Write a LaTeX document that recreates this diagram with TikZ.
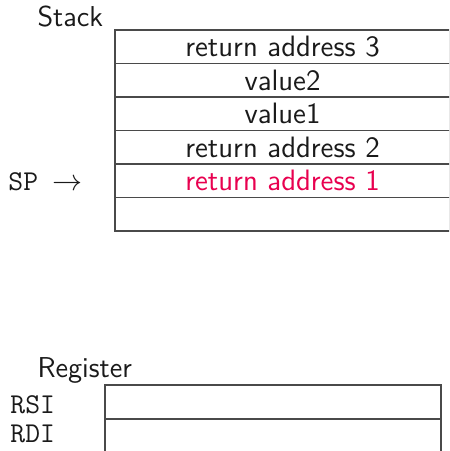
\documentclass[tikz,border=0pt]{standalone}
\usepackage{tikz}
\usetikzlibrary{positioning}
\definecolor{Alert}{HTML}{E8004F}
\definecolor{Frame}{HTML}{4A4A4A}
\definecolor{Ink}{HTML}{1A1A1A}

\begin{document}
\begin{tikzpicture}[x=0.4pt,y=-0.4pt,
  cell/.style={draw=Frame,line width=0.6pt,inner sep=0pt,outer sep=0pt,
    minimum width=134pt,minimum height=13.4pt,text=Ink,
    font=\sffamily\fontsize{11.8}{13}\selectfont},
  regcell/.style={cell,minimum width=134.4pt,minimum height=13.6pt},
  title/.style={anchor=base west,inner sep=0pt,text=Ink,font=\sffamily\fontsize{11.5}{13}\selectfont},
  tag/.style={anchor=base west,inner sep=0pt,text=Ink,font=\ttfamily\fontsize{11.5}{13}\selectfont}]
  \clip (0,0) rectangle (449,451);
  % stack, top to bottom
  \node[title] (stk) at (37,27) {Stack};
  \foreach \i/\txt in {1/return address 3, 2/value2, 3/value1,
    4/return address 2, 5/{\textcolor{Alert}{return address 1}}, 6/{}} {
    \node[cell] (r\i) at (282.5,{30+33.5*(\i-0.5)}) {\txt};
  }
  \node[tag] (sp) at (8,191) {SP $\rightarrow$};
  % registers
  \node[title] (regs) at (37,377) {Register};
  \node[regcell] (rsi) at (273,402) {};
  \node[regcell,below=0pt of rsi] (rdi) {};
  \node[tag] (rsilab) at (10,413) {RSI};
  \node[tag] (rdilab) at (10,442) {RDI};
\end{tikzpicture}
\end{document}
